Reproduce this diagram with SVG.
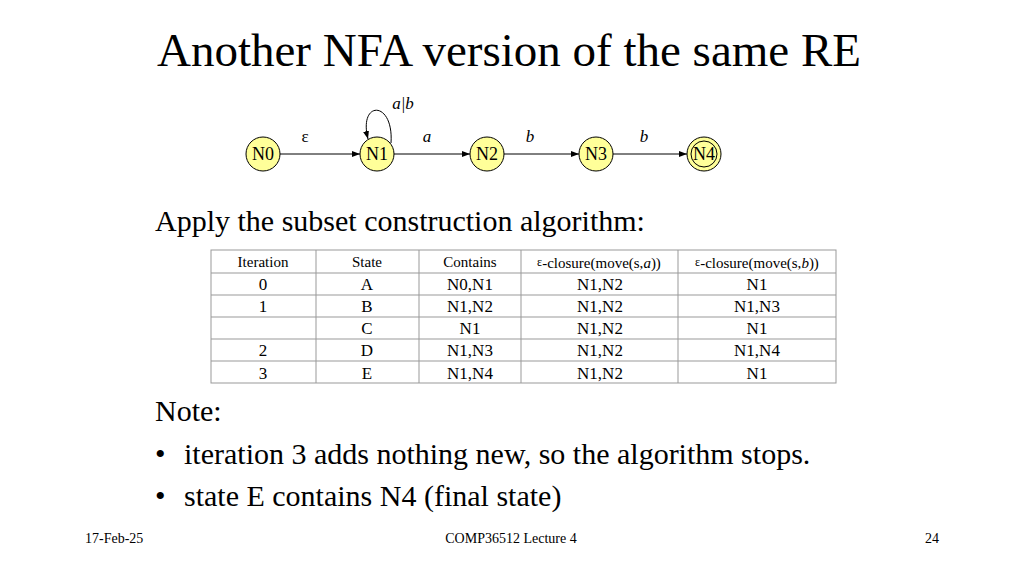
<svg xmlns="http://www.w3.org/2000/svg" width="1024" height="576" viewBox="0 0 1024 576" font-family="'Liberation Serif', 'Times New Roman', serif">
<defs>
<marker id="ah" markerWidth="8" markerHeight="6" refX="8" refY="3" orient="auto" markerUnits="userSpaceOnUse"><path d="M0,0 L8,3 L0,6 z" fill="#000"/></marker>
<style>
text{font-family:'Liberation Serif','Times New Roman',serif;fill:#000}
.n{fill:#ffff99;stroke:#000;stroke-width:1}
.nl{font-size:18px;text-anchor:middle}
.el{font-size:17px;font-style:italic;text-anchor:middle}
.ep{font-size:17px;text-anchor:middle}
.c{stroke:#000;stroke-width:1;fill:none}
.t{font-size:17px;text-anchor:middle}
.h{font-size:15px;text-anchor:middle}
.g{stroke:#999;stroke-width:1;fill:none}
</style>
</defs>
<rect width="1024" height="576" fill="#fff"/>
<text x="509" y="66" font-size="47" text-anchor="middle">Another NFA version of the same RE</text>
<g id="connectors">
<line class="c" x1="280" y1="154" x2="360" y2="154" marker-end="url(#ah)"/>
<line class="c" x1="394" y1="154" x2="470" y2="154" marker-end="url(#ah)"/>
<line class="c" x1="504" y1="154" x2="579" y2="154" marker-end="url(#ah)"/>
<line class="c" x1="613" y1="154" x2="687" y2="154" marker-end="url(#ah)"/>
<path class="c" d="M391,143 C394,100 358,100 368,139" marker-end="url(#ah)"/>
<text class="ep" x="305" y="142">ε</text>
<text class="el" x="427" y="142">a</text>
<text class="el" x="530" y="142">b</text>
<text class="el" x="644" y="142">b</text>
<text class="el" x="403" y="109">a|b</text>
</g>
<g id="N0"><circle class="n" cx="263" cy="154" r="17"/><text class="nl" x="263" y="160">N0</text></g>
<g id="N1"><circle class="n" cx="377" cy="154" r="17"/><text class="nl" x="377" y="160">N1</text></g>
<g id="N2"><circle class="n" cx="487" cy="154" r="17"/><text class="nl" x="487" y="160">N2</text></g>
<g id="N3"><circle class="n" cx="596" cy="154" r="17"/><text class="nl" x="596" y="160">N3</text></g>
<g id="N4"><circle class="n" cx="704" cy="154" r="17" stroke-width="3"/><circle cx="704" cy="154" r="13" fill="none" stroke="#000"/><text class="nl" x="704" y="160">N4</text></g>
<text x="155" y="231" font-size="30">Apply the subset construction algorithm:</text>
<g id="table">
<rect class="g" x="211" y="250" width="625" height="133"/>
<line class="g" x1="211" y1="273" x2="836" y2="273"/>
<line class="g" x1="211" y1="295" x2="836" y2="295"/>
<line class="g" x1="211" y1="317" x2="836" y2="317"/>
<line class="g" x1="211" y1="339" x2="836" y2="339"/>
<line class="g" x1="211" y1="361" x2="836" y2="361"/>
<line class="g" x1="316" y1="250" x2="316" y2="383"/>
<line class="g" x1="419" y1="250" x2="419" y2="383"/>
<line class="g" x1="521" y1="250" x2="521" y2="383"/>
<line class="g" x1="678" y1="250" x2="678" y2="383"/>
<text class="h" x="263" y="267">Iteration</text><text class="h" x="367" y="267">State</text><text class="h" x="470" y="267">Contains</text>
<text class="h" x="599" y="268"><tspan font-size="12" dy="-2">ε</tspan><tspan dy="2">-closure(move(s,</tspan><tspan font-style="italic">a</tspan>))</text>
<text class="h" x="757" y="268"><tspan font-size="12" dy="-2">ε</tspan><tspan dy="2">-closure(move(s,</tspan><tspan font-style="italic">b</tspan>))</text>
<text class="t" x="263" y="290">0</text><text class="t" x="367" y="290">A</text><text class="t" x="470" y="290">N0,N1</text><text class="t" x="600" y="290">N1,N2</text><text class="t" x="757" y="290">N1</text>
<text class="t" x="263" y="312">1</text><text class="t" x="367" y="312">B</text><text class="t" x="470" y="312">N1,N2</text><text class="t" x="600" y="312">N1,N2</text><text class="t" x="757" y="312">N1,N3</text>
<text class="t" x="367" y="334">C</text><text class="t" x="470" y="334">N1</text><text class="t" x="600" y="334">N1,N2</text><text class="t" x="757" y="334">N1</text>
<text class="t" x="263" y="356">2</text><text class="t" x="367" y="356">D</text><text class="t" x="470" y="356">N1,N3</text><text class="t" x="600" y="356">N1,N2</text><text class="t" x="757" y="356">N1,N4</text>
<text class="t" x="263" y="379">3</text><text class="t" x="367" y="379">E</text><text class="t" x="470" y="379">N1,N4</text><text class="t" x="600" y="379">N1,N2</text><text class="t" x="757" y="379">N1</text>
</g>
<text x="155" y="421" font-size="30">Note:</text>
<text x="155" y="464" font-size="30">•</text><text x="184" y="464" font-size="30">iteration 3 adds nothing new, so the algorithm stops.</text>
<text x="155" y="506" font-size="30">•</text><text x="184" y="506" font-size="30">state E contains N4 (final state)</text>
<text x="85" y="543" font-size="14">17-Feb-25</text>
<text x="511" y="543" font-size="14" text-anchor="middle">COMP36512 Lecture 4</text>
<text x="932" y="543" font-size="14" text-anchor="middle">24</text>
</svg>
